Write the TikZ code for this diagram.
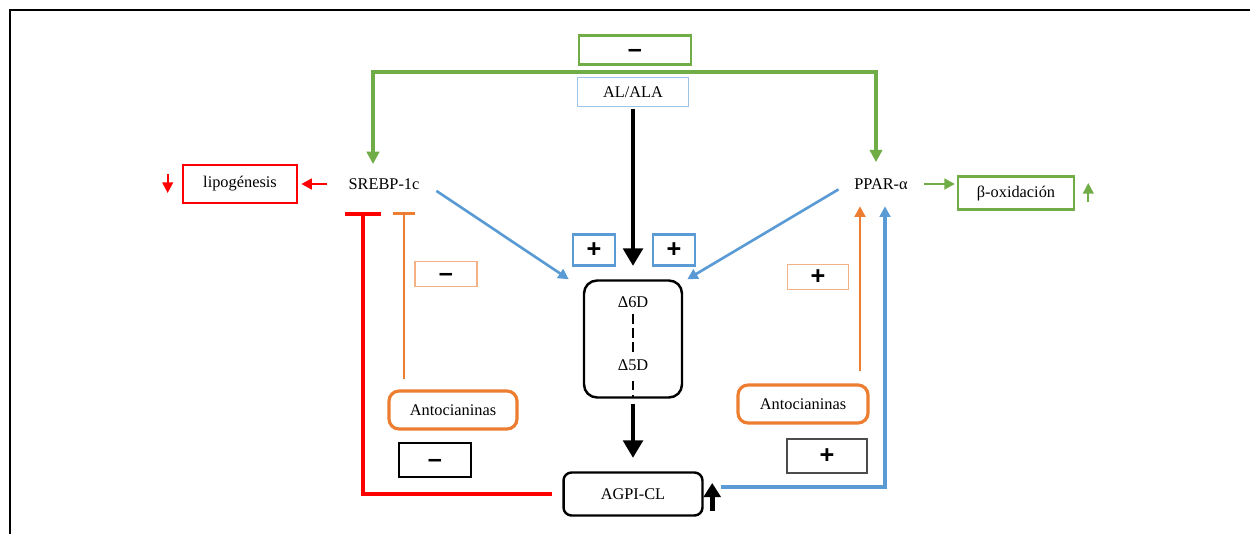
\documentclass[tikz,border=0pt]{standalone}
\usepackage{fontspec}
\setmainfont{Liberation Serif}
\setsansfont{Liberation Sans}
\usetikzlibrary{arrows.meta}

\definecolor{verde}{RGB}{112,173,71}
\definecolor{azul}{RGB}{91,155,213}
\definecolor{azulclaro}{RGB}{157,195,230}
\definecolor{naranja}{RGB}{237,125,49}
\definecolor{naranjaclaro}{RGB}{244,177,131}
\definecolor{rojo}{RGB}{255,0,0}

\begin{document}
\begin{tikzpicture}[x=0.02cm,y=-0.02cm,line width=1pt,>={Triangle[length=6pt,width=6pt]},
  font=\fontsize{9.3}{11}\selectfont,
  caja/.style={draw,inner sep=0pt},
  signo/.style={font=\sffamily\bfseries\Large},
  signomenos/.style={signo,text height=8.4pt,text depth=0pt},
  gruesa/.style={line width=2.8pt,-{Triangle[length=10pt,width=11pt]}}]
  \useasboundingbox (0,0) rectangle (1250,534);
  \draw[line width=1.1pt] (10,534) -- (10,10) -- (1250,10);

  % arriba
  \node[caja,draw=verde,line width=1.5pt,minimum width=2.24cm,minimum height=0.58cm,signomenos] (menos) at (635,50) {–};
  \node[caja,draw=azulclaro,line width=0.6pt,minimum width=2.22cm,minimum height=0.58cm] (alala) at (633,92) {AL/ALA};
  \coordinate (cruce) at (633,72);
  \node (srebp) at (384,184) {SREBP-1c};
  \node (ppar) at (881,184) {PPAR-α};
  \node[caja,draw=rojo,line width=1.5pt,minimum width=2.28cm,minimum height=0.76cm] (lipo) at (240,184) {lipogénesis};
  \node[caja,draw=verde,line width=1.5pt,minimum width=2.32cm,minimum height=0.66cm] (beta) at (1016,193) {β-oxidación};

  % centro
  \node[caja,draw=azul,line width=1.6pt,minimum width=0.84cm,minimum height=0.62cm,signo] (masA) at (594,250) {+};
  \node[caja,draw=azul,line width=1.6pt,minimum width=0.84cm,minimum height=0.62cm,signo] (masB) at (674,250) {+};
  \node[caja,rounded corners=0.26cm,line width=1.4pt,minimum width=1.96cm,minimum height=2.34cm] (delta) at (633,339) {};
  \node (d6) at (633,302) {Δ6D};
  \node (d5) at (633,365) {Δ5D};
  \node[caja,rounded corners=0.16cm,line width=1.4pt,minimum width=2.78cm,minimum height=0.86cm] (agpi) at (633,494) {AGPI-CL};

  % izquierda
  \node[caja,draw=naranjaclaro,line width=0.8pt,minimum width=1.24cm,minimum height=0.5cm,signomenos] (menosO) at (446,274) {–};
  \node[caja,draw=naranja,line width=1.8pt,rounded corners=0.2cm,minimum width=2.56cm,minimum height=0.76cm] (antA) at (453,410) {Antocianinas};
  \node[caja,line width=0.8pt,minimum width=1.44cm,minimum height=0.68cm,signomenos] (menosN) at (435,460) {–};

  % derecha
  \node[caja,draw=naranjaclaro,line width=0.8pt,minimum width=1.22cm,minimum height=0.5cm,signo] (masO) at (818,277) {+};
  \node[caja,draw=naranja,line width=1.8pt,rounded corners=0.2cm,minimum width=2.6cm,minimum height=0.76cm] (antB) at (803,404) {Antocianinas};
  \node[caja,draw=black!70,line width=0.8pt,minimum width=1.6cm,minimum height=0.68cm,signo] (masN) at (827,456) {+};

  % flechas
  \draw[verde,line width=2pt,<->,>={Triangle[length=7pt,width=7pt]},shorten <=4.4pt,shorten >=5.5pt]
    ([xshift=-0.22cm]srebp.north) |- (cruce) -| ([xshift=-0.1cm]ppar.north);
  \draw[gruesa,shorten <=1pt,shorten >=7.6pt] (alala.south) -- (delta.north);
  \draw[gruesa,shorten <=3pt,shorten >=7.6pt] (delta.south) -- (agpi.north);
  \draw[dash pattern=on 5.5pt off 2.5pt,line width=0.8pt] (d6.south) -- (d5.north);
  \draw[dash pattern=on 5.5pt off 2.5pt,line width=0.8pt,shorten <=2pt,shorten >=1pt] (d5.south) -- (delta.south);
  \draw[azul,line width=1.5pt,->,shorten <=7pt] (srebp.east) -- ([xshift=-0.28cm]delta.north west);
  \draw[azul,line width=1.5pt,->,shorten <=6pt] (ppar.west) -- ([xshift=0.08cm]delta.north east);
  \draw[azul,line width=2pt,->,shorten >=5.7pt] ([xshift=0.35cm,yshift=0.14cm]agpi.east) -| ([xshift=0.08cm]ppar.south);
  \draw[line width=3pt,-{Triangle[length=8pt,width=9.5pt]}] ([xshift=0.17cm,yshift=0.11cm]agpi.south east) -- ([xshift=0.17cm,yshift=0.22cm]agpi.east);

  \coordinate (tA) at ([xshift=0.4cm]srebp.south);
  \coordinate (tB) at ([xshift=-0.42cm]ppar.south);
  \draw[rojo,line width=2.3pt,-{Bar[width=20pt]},shorten <=6pt,shorten >=9pt] (agpi.west) -| ([xshift=-0.42cm]srebp.south);
  \draw[naranja,line width=1.6pt,-{Bar[width=13pt]},shorten <=6.2pt,shorten >=9pt] (tA |- antA.north) -- (tA);
  \draw[naranja,line width=1.6pt,->,shorten <=6.8pt,shorten >=5.7pt] (tB |- antB.north) -- (tB);

  \draw[rojo,line width=1.5pt,->,shorten <=8.3pt,shorten >=1.7pt] (srebp.west) -- (lipo.east);
  \draw[rojo,line width=1.2pt,->] ([xshift=-0.28cm,yshift=0.2cm]lipo.west) -- ([xshift=-0.28cm,yshift=-0.18cm]lipo.west);
  \draw[verde,line width=1.5pt,->,shorten <=5.4pt,shorten >=1pt] (ppar.east) -- (ppar.east -| beta.west);
  \draw[verde,line width=1.2pt,->] ([xshift=0.26cm,yshift=-0.18cm]beta.east) -- ([xshift=0.26cm,yshift=0.2cm]beta.east);
\end{tikzpicture}
\end{document}
